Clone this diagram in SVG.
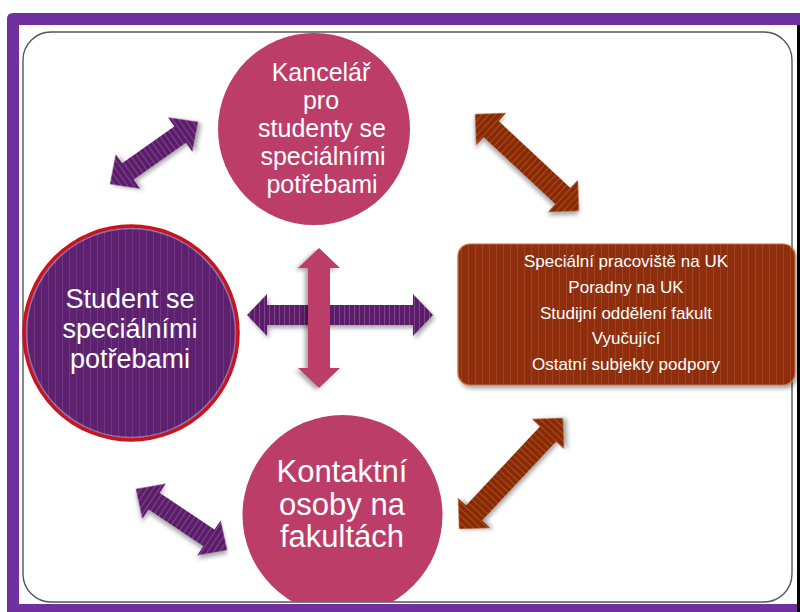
<svg xmlns="http://www.w3.org/2000/svg" width="800" height="612" viewBox="0 0 800 612">
  <style>
    .t { font-family: "Liberation Sans", Arial, sans-serif; fill: #ffffff; text-anchor: middle; }
    .big { font-size: 25px; }
    .mid { font-size: 27px; }
    .kon { font-size: 31px; }
    .sm { font-size: 17px; }
  </style>
  <defs>
    <pattern id="pStripe" patternUnits="userSpaceOnUse" width="5" height="10">
      <rect width="5" height="10" fill="#5C1F6B"/>
      <rect x="4" width="1" height="10" fill="#7A4689"/>
    </pattern>
    <pattern id="bStripe" patternUnits="userSpaceOnUse" width="5" height="10">
      <rect width="5" height="10" fill="#8A2B06"/>
      <rect x="4" width="1" height="10" fill="#A54B27"/>
    </pattern>
    <pattern id="cStripe" patternUnits="userSpaceOnUse" width="7" height="10">
      <rect width="7" height="10" fill="#5E2170"/>
      <rect x="6" width="1" height="10" fill="#6D3680"/>
    </pattern>
    <pattern id="boxStripe" patternUnits="userSpaceOnUse" width="7" height="10">
      <rect width="7" height="10" fill="#8E2D0A"/>
      <rect x="6" width="1" height="10" fill="#9E4222"/>
    </pattern>
    <filter id="sh" x="-20%" y="-20%" width="140%" height="140%">
      <feDropShadow dx="2" dy="3" stdDeviation="2" flood-color="#000" flood-opacity="0.35"/>
    </filter>
    <clipPath id="frameClip">
      <rect x="23" y="32" width="769" height="570" rx="28"/>
    </clipPath>
  </defs>

  <rect width="800" height="612" fill="#ffffff"/>

  <!-- outer frame -->
  <g id="frame">
    <path d="M7 19 Q7 13 13 13 L800 13 L800 612 L7 612 Z M19 25 L19 604 L797 604 L797 25 Z" fill="#7030A0" fill-rule="evenodd"/>
    <rect x="797" y="25" width="3" height="587" fill="#000000"/>
    <rect x="23" y="32" width="769" height="570" rx="28" fill="#ffffff" stroke="#555555" stroke-width="1.4"/>
  </g>

  <g id="connectors">
    <path filter="url(#sh)" fill="url(#pStripe)" transform="translate(154,153) rotate(-35.2)" d="M-54 0 L-32 -21 L-32 -10 L32 -10 L32 -21 L54 0 L32 21 L32 10 L-32 10 L-32 21 Z"/>
    <path filter="url(#sh)" fill="url(#bStripe)" transform="translate(527,162.5) rotate(43)" d="M-71 0 L-49 -22 L-49 -11 L49 -11 L49 -22 L71 0 L49 22 L49 11 L-49 11 L-49 22 Z"/>
    <path filter="url(#sh)" fill="url(#pStripe)" transform="translate(181.5,519.5) rotate(33.8)" d="M-55 0 L-33 -21 L-33 -10 L33 -10 L33 -21 L55 0 L33 21 L33 10 L-33 10 L-33 21 Z"/>
    <path filter="url(#sh)" fill="url(#bStripe)" transform="translate(511,473.5) rotate(-46.9)" d="M-76 0 L-54 -22 L-54 -11 L54 -11 L54 -22 L76 0 L54 22 L54 11 L-54 11 L-54 22 Z"/>
    <path filter="url(#sh)" fill="url(#pStripe)" transform="translate(340,315)" d="M-93 0 L-73 -21 L-73 -10 L73 -10 L73 -21 L93 0 L73 21 L73 10 L-73 10 L-73 21 Z"/>
    <path filter="url(#sh)" fill="#BB3D68" transform="translate(319,318) rotate(90)" d="M-70 0 L-50 -21 L-50 -11 L50 -11 L50 -21 L70 0 L50 21 L50 11 L-50 11 L-50 21 Z"/>
  </g>

  <g id="kancelar">
    <circle cx="314" cy="129" r="96" fill="#BB3D68"/>
    <text class="t big" x="321" y="81">Kancelář</text>
    <text class="t big" x="321" y="109">pro</text>
    <text class="t big" x="322" y="137">studenty se</text>
    <text class="t big" x="323" y="165">speciálními</text>
    <text class="t big" x="322" y="193">potřebami</text>
  </g>

  <g id="kontaktni">
    <g clip-path="url(#frameClip)">
      <circle cx="342.5" cy="515" r="100" fill="#BB3D68"/>
    </g>
    <text class="t kon" x="342" y="482">Kontaktní</text>
    <text class="t kon" x="342" y="515">osoby na</text>
    <text class="t kon" x="342" y="547">fakultách</text>
  </g>

  <g id="student">
    <circle cx="131" cy="333" r="107" fill="url(#cStripe)" stroke="#C8141E" stroke-width="3.5"/>
    <circle cx="131" cy="333" r="104.5" fill="none" stroke="#ffffff" stroke-opacity="0.35" stroke-width="1.5"/>
    <text class="t mid" x="130" y="308">Student se</text>
    <text class="t mid" x="130" y="338">speciálními</text>
    <text class="t mid" x="130" y="368">potřebami</text>
  </g>

  <g id="subjekty">
    <rect x="458" y="244" width="337" height="141" rx="12" fill="url(#boxStripe)" stroke="#C8703F" stroke-width="1.2" filter="url(#sh)"/>
    <text class="t sm" x="626" y="267">Speciální pracoviště na UK</text>
    <text class="t sm" x="626" y="293">Poradny na UK</text>
    <text class="t sm" x="626" y="319">Studijní  oddělení  fakult</text>
    <text class="t sm" x="626" y="344">Vyučující</text>
    <text class="t sm" x="626" y="370">Ostatní subjekty podpory</text>
  </g>
</svg>
